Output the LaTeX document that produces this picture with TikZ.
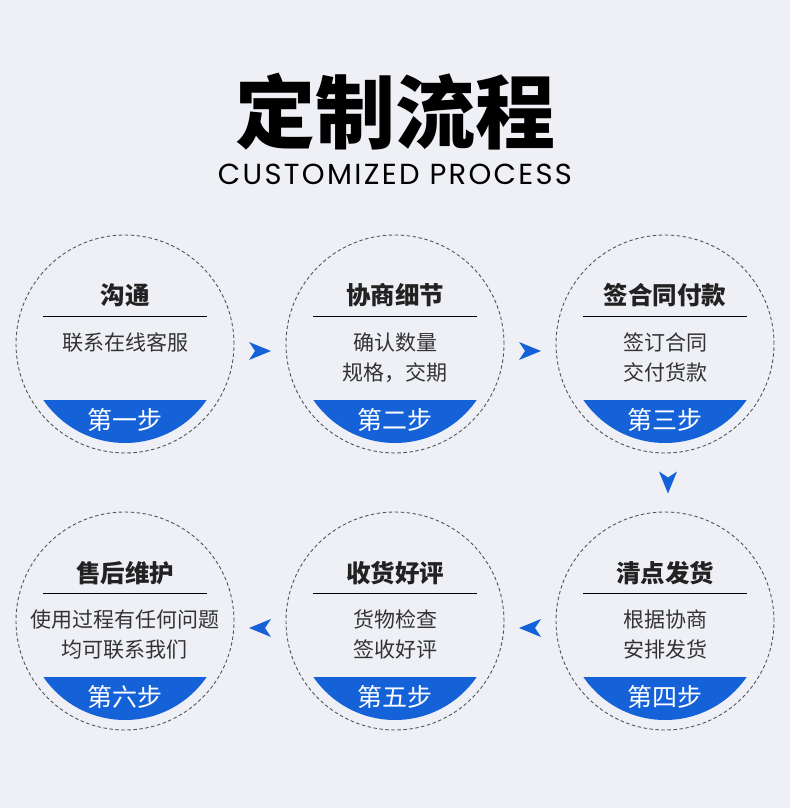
\documentclass[tikz,border=0pt]{standalone}
\usepackage{fontspec}
\newfontfamily\cjk{Noto Sans CJK SC}
\newfontfamily\poppins[LetterSpace=8]{Poppins}
\usetikzlibrary{calc}
\definecolor{bg}{HTML}{EEF0F5}
\definecolor{bandblue}{HTML}{1562D8}
\definecolor{ink}{HTML}{222222}
\definecolor{body}{HTML}{333333}
\definecolor{dash}{HTML}{555555}
\tikzset{
  stepcircle/.style={circle, draw=dash, dashed, dash pattern=on 3.5pt off 2.5pt, line width=0.9pt, minimum size=218pt, inner sep=0pt},
  steptitle/.style={font=\cjk\bfseries\fontsize{24.5}{26}\selectfont, text=ink},
  stepbody/.style={font=\cjk\fontsize{21}{30}\selectfont, text=body, align=center},
  steplabel/.style={font=\cjk\fontsize{25}{26}\selectfont, text=white},
  steprule/.style={line width=1pt, black},
  arrowhd/.pic={\fill[bandblue] (11,0) -- (-11,-9) -- (-5,0) -- (-11,9) -- cycle;}
}
\newcommand{\stepband}[1]{%
  \begin{scope}
    \clip (#1) circle[radius=99pt];
    \fill[bandblue] ($(#1)+(-110,56)$) rectangle ($(#1)+(110,110)$);
  \end{scope}}
\begin{document}
\begin{tikzpicture}[x=1pt,y=-1pt]
\fill[bg] (0,0) rectangle (790,808);
\useasboundingbox (0,0) rectangle (790,808);
\node[font=\cjk\bfseries\fontsize{80}{90}\selectfont, text=black] (title) at (395,112) {定制流程};
\node[font=\poppins\fontsize{29}{32}\selectfont, text=black] (sub) at (395,174) {CUSTOMIZED PROCESS};

\node[stepcircle] (c1) at (125,344) {};
\node[stepcircle] (c2) at (395,344) {};
\node[stepcircle] (c3) at (665,344) {};
\node[stepcircle] (c4) at (665,621) {};
\node[stepcircle] (c5) at (395,621) {};
\node[stepcircle] (c6) at (125,621) {};

\foreach \c in {c1,c2,c3,c4,c5,c6}{
  \stepband{\c}
  \draw[steprule] ($(\c)+(-82,-28)$) -- ($(\c)+(82,-28)$);
}

\node[steptitle] (t1) at ($(c1)+(0,-49)$) {沟通};
\node[steptitle] (t2) at ($(c2)+(0,-49)$) {协商细节};
\node[steptitle] (t3) at ($(c3)+(0,-49)$) {签合同付款};
\node[steptitle] (t4) at ($(c4)+(0,-48)$) {清点发货};
\node[steptitle] (t5) at ($(c5)+(0,-48)$) {收货好评};
\node[steptitle] (t6) at ($(c6)+(0,-48)$) {售后维护};

\node[stepbody, anchor=north] (b1) at ($(c1)+(0,-15)$) {联系在线客服};
\node[stepbody, anchor=north] (b2) at ($(c2)+(0,-15)$) {确认数量\\规格，交期};
\node[stepbody, anchor=north] (b3) at ($(c3)+(0,-15)$) {签订合同\\交付货款};
\node[stepbody, anchor=north] (b4) at ($(c4)+(0,-15)$) {根据协商\\安排发货};
\node[stepbody, anchor=north] (b5) at ($(c5)+(0,-15)$) {货物检查\\签收好评};
\node[stepbody, anchor=north] (b6) at ($(c6)+(0,-15)$) {使用过程有任何问题\\均可联系我们};

\node[steplabel] (l1) at ($(c1)+(0,76)$) {第一步};
\node[steplabel] (l2) at ($(c2)+(0,76)$) {第二步};
\node[steplabel] (l3) at ($(c3)+(0,76)$) {第三步};
\node[steplabel] (l4) at ($(c4)+(0,76)$) {第四步};
\node[steplabel] (l5) at ($(c5)+(0,76)$) {第五步};
\node[steplabel] (l6) at ($(c6)+(0,76)$) {第六步};

\path ($(c1)!0.5!(c2)+(0,7)$) pic {arrowhd};
\path ($(c2)!0.5!(c3)+(0,7)$) pic {arrowhd};
\path ($(c3)!0.5!(c4)+(3,0)$) pic[rotate=-90] {arrowhd};
\path ($(c4)!0.5!(c5)+(0,7)$) pic[rotate=180] {arrowhd};
\path ($(c5)!0.5!(c6)+(0,7)$) pic[rotate=180] {arrowhd};
\end{tikzpicture}
\end{document}
